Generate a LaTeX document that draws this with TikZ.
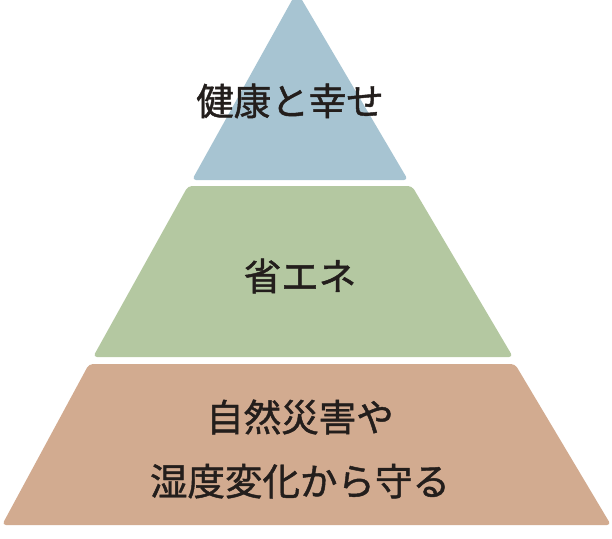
\documentclass[tikz,border=0pt]{standalone}
\usepackage{fontspec}
\newfontfamily\jp[FakeBold=1.2]{Noto Sans CJK JP}
\definecolor{topblue}{RGB}{167,196,210}
\definecolor{midgreen}{RGB}{180,200,161}
\definecolor{botbrown}{RGB}{210,171,144}
\definecolor{ink}{RGB}{35,30,28}
\begin{document}
\begin{tikzpicture}[x=1pt,y=-1pt,
  band/.style={rounded corners=4pt, draw=none},
  lbl/.style={font=\jp\fontsize{37.5}{64}\selectfont, text=ink, align=center, inner sep=0pt}]
\useasboundingbox (0,0) rectangle (612,538);
\clip (0,0) rectangle (612,538);
\fill[band, topblue] (296.9,-8.7) -- (408,180) -- (192,180) -- cycle;
\fill[band, midgreen] (188,186) -- (412,186) -- (513,357) -- (93,357) -- cycle;
\fill[band, botbrown] (89,364) -- (515,364) -- (611,525) -- (2,525) -- cycle;
\node[lbl] (t1) at (290,101) {健康と幸せ};
\node[lbl] (t2) at (300,276) {省エネ};
\node[lbl] (t3) at (300,449) {自然災害や\\湿度変化から守る};
\end{tikzpicture}
\end{document}
